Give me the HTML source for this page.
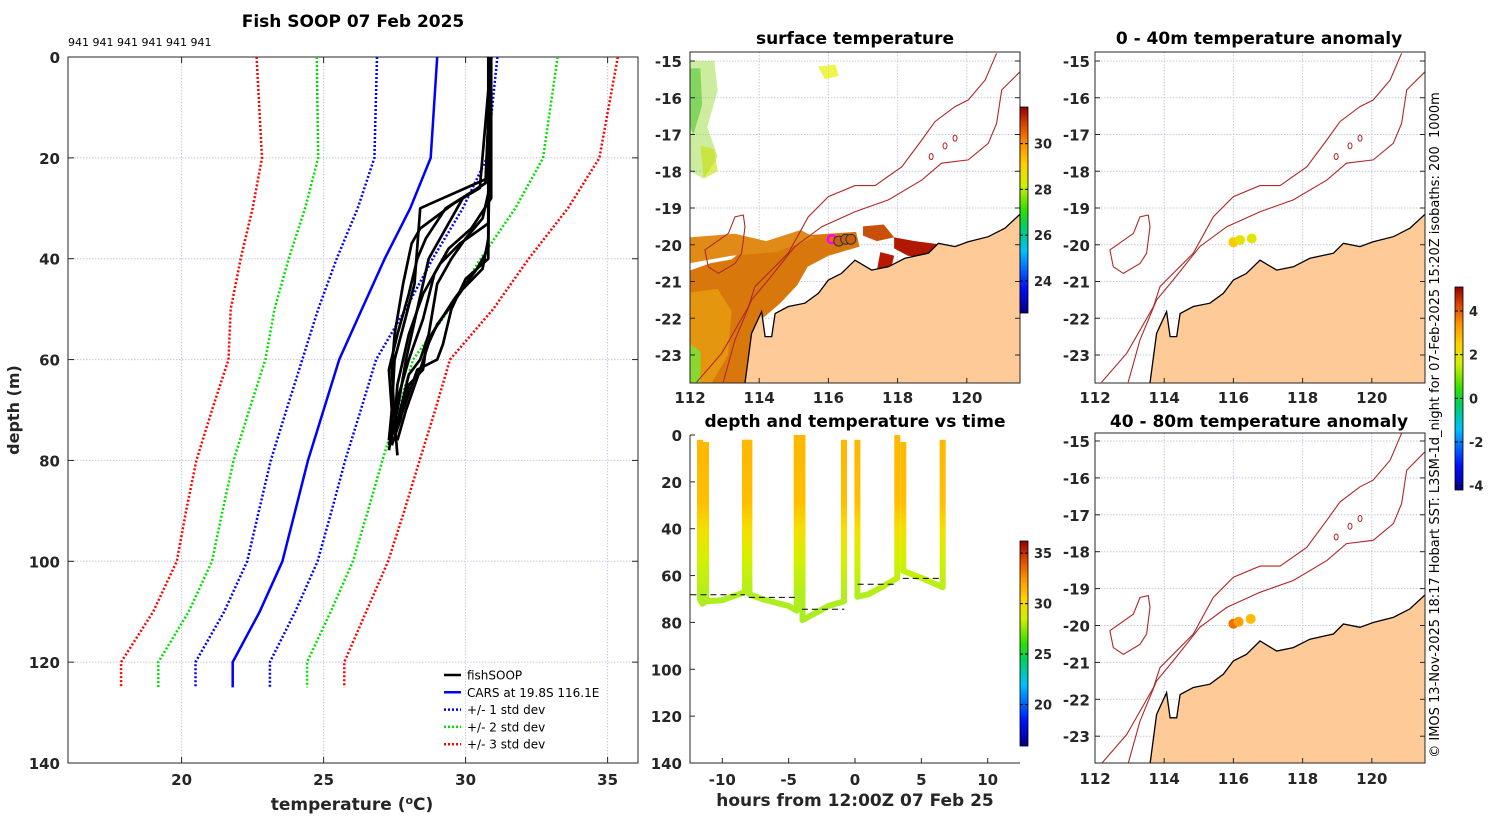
<!DOCTYPE html>
<html><head><meta charset="utf-8"><style>
body{margin:0;background:#fff}
svg{display:block;font-family:"DejaVu Sans","Liberation Sans",sans-serif}
.tk{font-size:15px;font-weight:bold;fill:#262626}
.ti{font-size:17px;font-weight:bold;fill:#000}
.lg{font-size:12px;fill:#000}
</style></head><body>
<svg id="s" width="1500" height="820" viewBox="0 0 1500 820">
<defs>
<linearGradient id="jet" x1="0" y1="1" x2="0" y2="0">
<stop offset="0" stop-color="#000080"/><stop offset="0.12" stop-color="#0010ff"/><stop offset="0.3" stop-color="#00c0ff"/><stop offset="0.42" stop-color="#00d060"/><stop offset="0.5" stop-color="#30e000"/><stop offset="0.62" stop-color="#d0f000"/><stop offset="0.72" stop-color="#ffd000"/><stop offset="0.82" stop-color="#ff9000"/><stop offset="0.92" stop-color="#d84000"/><stop offset="1" stop-color="#900000"/>
</linearGradient>
<linearGradient id="dive" gradientUnits="userSpaceOnUse" x1="0" y1="435" x2="0" y2="625">
<stop offset="0" stop-color="#ffb800"/><stop offset="0.35" stop-color="#ffbe00"/><stop offset="0.5" stop-color="#f4e000"/><stop offset="0.65" stop-color="#d4f000"/><stop offset="0.85" stop-color="#b0ee20"/><stop offset="1" stop-color="#a8ee20"/>
</linearGradient>
<clipPath id="c1"><rect x="690" y="52" width="330" height="331"/></clipPath>
<clipPath id="c2"><rect x="1095" y="52" width="330" height="331"/></clipPath>
<clipPath id="c3"><rect x="1095" y="433" width="330" height="330"/></clipPath>
</defs>
</svg>
<script>
// ---------- DATA ----------
const depthLevels=[0,20,30,40,50,60,70,80,90,100,110,120,125];
const carsTemp=[29.0,28.77,28.05,27.15,26.35,25.55,25.0,24.45,24.0,23.55,22.75,21.8,21.8];
const carsStd=[2.12,1.98,1.85,1.69,1.54,1.30,1.31,1.31,1.28,1.24,1.25,1.31,1.31];
const xTicks=[20,25,30,35];
const yTicks=[0,20,40,60,80,100,120,140];
const profDepths=[
[0,24,26,29,30,45,60,70,76],
[0,25,28,35,40,50,60,70,77],
[0,27,32,36,40,45,55,60,63,70,75],
[0,30,38,42,48,55,62,70,76],
[0,33,37,41,47,55,65,72,79],
[0,25,30,36,40,47,55,62,70,76],
[0,36,42,46,50,53,58,62,65,72,77],
[0,28,34,38,43,52,60,68,75],
[0,26,29,34,37,45,55,62,72,78],
[0,40,44,50,57,60,62,70,75]];
const profTemps=[
[30.9,30.8,30.0,28.8,28.4,28.2,27.5,27.4,27.4],
[30.9,30.7,29.9,29.2,28.7,28.3,27.9,27.6,27.3],
[30.9,30.8,30.6,30.0,29.5,29.0,28.7,28.4,28.0,27.7,27.5],
[30.9,30.8,30.8,30.4,29.6,28.8,28.4,27.9,27.6],
[30.9,30.8,29.8,29.1,28.5,28.0,27.6,27.5,27.6],
[30.9,30.7,29.3,28.6,28.3,28.0,27.6,27.3,27.4,27.3],
[30.9,30.8,30.6,29.9,29.4,29.0,28.6,28.5,28.0,27.7,27.4],
[30.9,30.9,30.2,29.4,28.9,28.5,28.0,27.6,27.5],
[30.9,30.5,29.6,28.4,28.1,27.8,27.5,27.4,27.5,27.3],
[30.8,30.8,30.0,29.5,29.2,29.0,28.3,27.8,27.5]];
// depth-time dives
const diveTimes=[[-11.68,-11.68,-11.5,-11.23,-11.23],[-11.23,-11.23,-10,-8.29,-8.29],[-7.96,-7.96,-7,-5,-4.39,-4.39],[-3.96,-3.96,-3,-2,-0.83,-0.83],[0.18,0.18,1,2,3.19,3.19],[3.64,3.64,5,6.61,6.61]];
const diveDepths=[[2,70,72,71,3],[3,71,70.5,67,2],[2,68,70,73,75,0],[0,79,76,73,71,2],[2,69,68,65,61,0],[3,58,61,65,2]];
const refT0=[-12.4,-8,-4,0.2,3.6];
const refT1=[-8.3,-4.4,-0.8,3.2,6.6];
const refDepth=[68.2,69.3,74.4,63.7,61.2];
const hourTicks=[-10,-5,0,5,10];
// map geography (lon, lat)
const coastLon=[113.59,113.78,114.07,114.17,114.36,114.46,114.84,115.32,115.71,116.0,116.38,116.77,117.25,117.73,118.21,118.89,119.18,119.66,120.04,120.62,121.1,121.56];
const coastLat=[-23.76,-22.41,-21.82,-22.5,-22.5,-21.87,-21.68,-21.59,-21.32,-20.96,-20.78,-20.42,-20.69,-20.6,-20.37,-20.23,-19.96,-20.05,-19.92,-19.78,-19.55,-19.15];
const iso200Lon=[112.96,113.3,113.78,114.26,115.03,115.81,116.77,117.73,118.7,119.27,120.04,120.62,120.86,121.01,121.54];
const iso200Lat=[-23.74,-22.59,-21.5,-20.96,-20.05,-19.51,-19.1,-18.78,-18.24,-17.78,-17.69,-17.24,-16.7,-15.79,-15.29];
const iso1000Lon=[112.19,112.92,113.69,113.88,114.84,115.42,116.0,116.77,117.35,118.12,118.7,119.08,119.66,120.04,120.53,120.86];
const iso1000Lat=[-23.74,-22.95,-21.68,-21.14,-20.23,-19.24,-18.69,-18.39,-18.39,-17.88,-17.15,-16.65,-16.24,-16.06,-15.52,-14.79];
const islandLon=[112.43,113.11,113.3,113.54,113.59,113.49,113.3,112.82,112.53];
const islandLat=[-20.14,-19.69,-19.24,-19.19,-19.51,-20.23,-20.51,-20.78,-20.6];
const seamountLon=[118.97,119.37,119.66];
const seamountLat=[-17.6,-17.31,-17.1];
const lonTicks=[112,114,116,118,120];
const latTicks=[-15,-16,-17,-18,-19,-20,-21,-22,-23];
const soopLon=[116.1,116.3,116.5,116.65];
const soopLat=[-19.85,-19.9,-19.85,-19.85];
const anom1Lon=[116.0,116.19,116.53];
const anom1Lat=[-19.93,-19.87,-19.83];
const anom1Val=[2.6,2.0,1.9];
const anom2Lon=[116.0,116.15,116.5];
const anom2Lat=[-19.95,-19.9,-19.82];
const anom2Val=[3.8,3.2,2.8];

// ---------- HELPERS ----------
const S=document.getElementById('s');const NS='http://www.w3.org/2000/svg';
function el(tag,attrs,parent,txt){const e=document.createElementNS(NS,tag);for(const k in attrs)e.setAttribute(k,attrs[k]);if(txt!==undefined)e.textContent=txt;(parent||S).appendChild(e);return e;}
function jet(f){f=Math.max(0,Math.min(1,f));const st=[[0,0,0,128],[0.12,0,16,255],[0.3,0,192,255],[0.42,0,208,96],[0.5,48,224,0],[0.62,208,240,0],[0.72,255,208,0],[0.82,255,144,0],[0.92,216,64,0],[1,144,0,0]];for(let i=1;i<st.length;i++){if(f<=st[i][0]){const a=st[i-1],b=st[i],t=(f-a[0])/(b[0]-a[0]);return 'rgb('+[1,2,3].map(j=>Math.round(a[j]+(b[j]-a[j])*t)).join(',')+')';}}return 'rgb(144,0,0)';}

// ---------- LEFT PROFILE CHART ----------
const L={x0:68,x1:638,y0:57,y1:763,tmin:16,tmax:36.07,dmax:140};
const tx=t=>L.x0+(t-L.tmin)/(L.tmax-L.tmin)*(L.x1-L.x0);
const dy=d=>L.y0+d/L.dmax*(L.y1-L.y0);
const gL=el('g',{});
el('text',{x:353,y:27,'text-anchor':'middle',class:'ti',},gL,'Fish SOOP 07 Feb 2025');
el('text',{x:68,y:46,'font-size':'11',},gL,'941 941 941 941 941 941');
xTicks.forEach(t=>{el('line',{x1:tx(t),x2:tx(t),y1:L.y0,y2:L.y1,stroke:'#c4c8e0','stroke-dasharray':'1.5,1.5',},gL);
 el('line',{x1:tx(t),x2:tx(t),y1:L.y1,y2:L.y1-6,stroke:'#262626'},gL);el('line',{x1:tx(t),x2:tx(t),y1:L.y0,y2:L.y0+6,stroke:'#262626'},gL);
 el('text',{x:tx(t),y:L.y1+22,'text-anchor':'middle',class:'tk',},gL,t);});
yTicks.forEach(d=>{if(d>0&&d<140)el('line',{x1:L.x0,x2:L.x1,y1:dy(d),y2:dy(d),stroke:'#c4c8e0','stroke-dasharray':'1.5,1.5',},gL);
 el('line',{x1:L.x0,x2:L.x0+6,y1:dy(d),y2:dy(d),stroke:'#262626'},gL);el('line',{x1:L.x1,x2:L.x1-6,y1:dy(d),y2:dy(d),stroke:'#262626'},gL);
 el('text',{x:L.x0-8,y:dy(d)+6,'text-anchor':'end',class:'tk',},gL,d);});
el('rect',{x:L.x0,y:L.y0,width:L.x1-L.x0,height:L.y1-L.y0,fill:'none',stroke:'#262626','stroke-width':1,},gL);
function pl(xs,ys){return xs.map((x,i)=>x.toFixed(1)+','+ys[i].toFixed(1)).join(' ');}
const stdStyles=[[3,'#ff0000','sd3'],[2,'#00e000','sd2'],[1,'#0000ff','sd1']];
stdStyles.forEach(([k,c,n])=>{[-1,1].forEach(sg=>{
 const p=el('polyline',{points:pl(carsTemp.map((t,i)=>tx(t+sg*k*carsStd[i])),depthLevels.map(dy)),fill:'none',stroke:c,'stroke-width':2.5,'stroke-dasharray':'2,2'},gL);
 
 });});
const cars=el('polyline',{points:pl(carsTemp.map(tx),depthLevels.map(dy)),fill:'none',stroke:'#0000ff','stroke-width':2.5},gL);


profDepths.forEach((ds,i)=>{const p=el('polyline',{points:pl(profTemps[i].map(tx),ds.map(dy)),fill:'none',stroke:'#000','stroke-width':2.7,'stroke-linejoin':'round'},gL);
 
 });
const lgItems=[['fishSOOP','#000',''],['CARS at 19.8S 116.1E','#0000ff',''],['+/- 1 std dev','#0000ff','2,2'],['+/- 2 std dev','#00e000','2,2'],['+/- 3 std dev','#ff0000','2,2']];
lgItems.forEach((it,i)=>{const y=675+i*17.3;const g=el('g',{},gL);
 
 
 el('line',{x1:444,x2:461,y1:y,y2:y,stroke:it[1],'stroke-width':2.5,'stroke-dasharray':it[2]},g);
 el('text',{x:467,y:y+4.5,class:'lg'},g,it[0]);});
el('text',{x:352,y:810,'text-anchor':'middle',class:'tk',style:'font-size:17px',},gL).innerHTML='temperature (<tspan dy="-6" style="font-size:11px">o</tspan><tspan dy="6">C)</tspan>';
el('text',{x:0,y:0,transform:'translate(19,410) rotate(-90)','text-anchor':'middle',class:'tk',style:'font-size:16px',},gL,'depth (m)');

// ---------- MAP HELPERS ----------
function mapPanel(name,x0,y0,x1,y1,yref,ppd,clip,labelX,lonLabelY){
 const g=el('g',{});
 const px=lon=>x0+(lon-112)*34.6, py=lat=>yref+(-15-lat)*ppd;
 const latBottom=-15-(y1-yref)/ppd;
 el('rect',{x:x0,y:y0,width:x1-x0,height:y1-y0,fill:'#fff'},g);
 const cg=el('g',{'clip-path':'url(#'+clip+')'},g);
 lonTicks.forEach(l=>{el('line',{x1:px(l),x2:px(l),y1:y0,y2:y1,stroke:'#c4c8e0','stroke-dasharray':'1.5,1.5'},cg);
  el('text',{x:px(l),y:lonLabelY,'text-anchor':'middle',class:'tk',},g,l);
  el('line',{x1:px(l),x2:px(l),y1:y1,y2:y1-5,stroke:'#262626'},g);});
 latTicks.forEach(l=>{el('line',{x1:x0,x2:x1,y1:py(l),y2:py(l),stroke:'#c4c8e0','stroke-dasharray':'1.5,1.5'},cg);
  if(labelX)el('text',{x:labelX,y:py(l)+6,'text-anchor':'end',class:'tk',},g,l);
  el('line',{x1:x0,x2:x0+5,y1:py(l),y2:py(l),stroke:'#262626'},g);el('line',{x1:x1,x2:x1-5,y1:py(l),y2:py(l),stroke:'#262626'},g);});
 return {g,cg,px,py,latBottom,x0,y0,x1,y1};
}
function drawGeo(m){
 const land=coastLon.map((l,i)=>m.px(l)+','+m.py(coastLat[i]));
 land.push(m.px(121.6)+','+m.py(coastLat[coastLat.length-1]),m.px(121.6)+','+m.py(m.latBottom-0.1),m.px(113.59)+','+m.py(m.latBottom-0.1));
 const lp=el('polygon',{points:land.join(' '),fill:'#fdca98',stroke:'none'},m.cg);
 
 
 const cl=el('polyline',{points:pl(coastLon.map(m.px),coastLat.map(m.py)),fill:'none',stroke:'#000','stroke-width':1.3},m.cg);
 
 
 [[iso200Lon,iso200Lat,'isobath-200m'],[iso1000Lon,iso1000Lat,'isobath-1000m']].forEach(([a,b,n])=>{
  const p=el('polyline',{points:pl(a.map(m.px),b.map(m.py)),fill:'none',stroke:'#b02828','stroke-width':1.1},m.cg);
  
  });
 const is=el('polygon',{points:pl(islandLon.map(m.px),islandLat.map(m.py)),fill:'none',stroke:'#b02828','stroke-width':1.1},m.cg);
 
 
 seamountLon.forEach((l,i)=>{const e=el('ellipse',{cx:m.px(l),cy:m.py(seamountLat[i]),rx:2,ry:3,fill:'none',stroke:'#b02828'},m.cg);
  
  });
 el('rect',{x:m.x0,y:m.y0,width:m.x1-m.x0,height:m.y1-m.y0,fill:'none',stroke:'#262626'},m.g);
}
function colorbar(name,x,y0,y1,vmin,vmax,ticks){
 const g=el('g',{});
 el('rect',{x:x,y:y0,width:8,height:y1-y0,fill:'url(#jet)',stroke:'#000','stroke-width':0.8},g);
 ticks.forEach(t=>{const y=y1-(t-vmin)/(vmax-vmin)*(y1-y0);el('line',{x1:x,x2:x+3,y1:y,y2:y,stroke:'#000'},g);el('line',{x1:x+8,x2:x+5,y1:y,y2:y,stroke:'#000'},g);
  el('text',{x:x+14,y:y+5,class:'tk',style:'font-size:13px',},g,t);});
}

// ---------- SST MAP ----------
const m1=mapPanel('sst-map',690,52,1020,383,61,36.75,'c1',682,403);
el('text',{x:855,y:44,'text-anchor':'middle',class:'ti',},S,'surface temperature');
function poly(m,pts,fill,name,op){const p=el('polygon',{points:pts.map(q=>m.px(q[0])+','+m.py(q[1])).join(' '),fill:fill,'fill-opacity':op||1},m.cg);}
poly(m1,[[112,-20.7],[112.6,-20.5],[113.2,-20.4],[113.6,-20.1],[114.3,-20.2],[115.2,-19.75],[116.8,-19.65],[116.9,-20.05],[116.0,-20.3],[115.4,-20.6],[115.1,-21.1],[114.6,-21.6],[114.1,-22.0],[113.9,-22.6],[113.7,-23.8],[112,-23.8]],'#d8780c','sst-warm-region');
poly(m1,[[112,-21.3],[112.8,-21.2],[113.2,-21.8],[113.1,-23.0],[112.6,-23.8],[112,-23.8]],'#e4960f','sst-shelf-region');
poly(m1,[[112,-19.8],[113.3,-19.7],[114.2,-19.9],[115.2,-19.6],[115.6,-19.8],[114.5,-20.2],[113.2,-20.3],[112,-20.5]],'#e08a18','sst-band');
poly(m1,[[117.9,-19.8],[118.5,-19.9],[119.3,-20.0],[119.5,-20.3],[119.0,-20.35],[118.3,-20.3],[117.9,-20.1]],'#b01800','sst-hot-patch');
poly(m1,[[117.0,-19.5],[117.6,-19.45],[117.9,-19.8],[117.4,-19.9],[117.0,-19.75]],'#c85008','sst-patch-2');
poly(m1,[[117.5,-20.2],[117.9,-20.3],[117.8,-20.7],[117.4,-20.7]],'#b81800','sst-coastal-patch');
poly(m1,[[112,-15],[112.7,-15],[112.8,-15.8],[112.5,-16.8],[112.8,-17.6],[112.4,-18.2],[112,-18.0]],'#8fd828','sst-cool-patch',0.45);
poly(m1,[[112,-15.2],[112.3,-15.2],[112.35,-16.2],[112.1,-17.0],[112,-16.8]],'#38c020','sst-cool-core',0.5);
poly(m1,[[112.3,-17.3],[112.7,-17.4],[112.8,-18.0],[112.4,-18.2]],'#c8e000','sst-yellow-patch',0.6);
poly(m1,[[115.7,-15.15],[116.2,-15.1],[116.3,-15.4],[115.9,-15.5]],'#e6f000','sst-yellow-north',0.7);
poly(m1,[[112,-22.7],[112.3,-22.9],[112.3,-23.8],[112,-23.8]],'#88d830','sst-green-sw');
drawGeo(m1);
soopLon.forEach((l,i)=>{const c=el('circle',{cx:m1.px(l),cy:m1.py(soopLat[i]),r:i==0?4:5,fill:i==0?'#e07010':'#c86010',stroke:i==0?'#ff00ff':'#333','stroke-width':i==0?2.5:1},m1.cg);
 
 });
colorbar('sst-colorbar',1020,107,313,22.6,31.6,[24,26,28,30]);

// ---------- ANOMALY MAPS ----------
const m2=mapPanel('anomaly-0-40m-map',1095,52,1425,383,61,36.75,'c2',1090,403);
el('text',{x:1259,y:44,'text-anchor':'middle',class:'ti',},S,'0 - 40m temperature anomaly');
drawGeo(m2);
anom1Lon.forEach((l,i)=>{const c=el('circle',{cx:m2.px(l),cy:m2.py(anom1Lat[i]),r:5,fill:jet((anom1Val[i]+4.2)/9.3)},m2.cg);
 
 });
const m3=mapPanel('anomaly-40-80m-map',1095,433,1425,763,441,36.9,'c3',1090,784);
el('text',{x:1259,y:427,'text-anchor':'middle',class:'ti',},S,'40 - 80m temperature anomaly');
drawGeo(m3);
anom2Lon.forEach((l,i)=>{const c=el('circle',{cx:m3.px(l),cy:m3.py(anom2Lat[i]),r:5,fill:jet((anom2Val[i]+4.2)/9.3)},m3.cg);
 
 });
colorbar('anomaly-colorbar',1455,287,490,-4.2,5.1,[-4,-2,0,2,4]);
el('text',{x:0,y:0,transform:'translate(1439,425) rotate(-90)','text-anchor':'middle','font-size':'13',fill:'#000',style:'white-space:pre',},S,'© IMOS 13-Nov-2025 18:17 Hobart SST: L3SM-1d_night for 07-Feb-2025 15:20Z isobaths: 200  1000m');

// ---------- DEPTH vs TIME ----------
const D={x0:690,x1:1020,y0:435,y1:763};
const hx=h=>855+h*13.27, hy=d=>D.y0+d/140*(D.y1-D.y0);
const gD=el('g',{});
el('text',{x:855,y:427,'text-anchor':'middle',class:'ti',},S,'depth and temperature vs time');
el('polyline',{points:D.x0+','+D.y0+' '+D.x0+','+D.y1+' '+D.x1+','+D.y1,fill:'none',stroke:'#262626'},gD);
yTicks.forEach(d=>{el('line',{x1:D.x0,x2:D.x0+5,y1:hy(d),y2:hy(d),stroke:'#262626'},gD);
 el('text',{x:D.x0-8,y:hy(d)+6,'text-anchor':'end',class:'tk',},gD,d);});
hourTicks.forEach(h=>{el('line',{x1:hx(h),x2:hx(h),y1:D.y1,y2:D.y1-5,stroke:'#262626'},gD);
 el('text',{x:hx(h),y:D.y1+22,'text-anchor':'middle',class:'tk',},gD,h);});
el('text',{x:855,y:806,'text-anchor':'middle',class:'tk',style:'font-size:17px',},gD,'hours from 12:00Z 07 Feb 25');
diveTimes.forEach((ts,i)=>{const p=el('polyline',{points:pl(ts.map(hx),diveDepths[i].map(hy)),fill:'none',stroke:'url(#dive)','stroke-width':6,'stroke-linejoin':'round'},gD);
 
 });
refT0.forEach((t,i)=>{const l=el('line',{x1:hx(t),x2:hx(refT1[i]),y1:hy(refDepth[i]),y2:hy(refDepth[i]),stroke:'#000','stroke-dasharray':'6,4','stroke-width':1},gD);
 
 });
colorbar('depth-time-colorbar',1020,541,746,15.9,36.2,[20,25,30,35]);
</script>
</body></html>
